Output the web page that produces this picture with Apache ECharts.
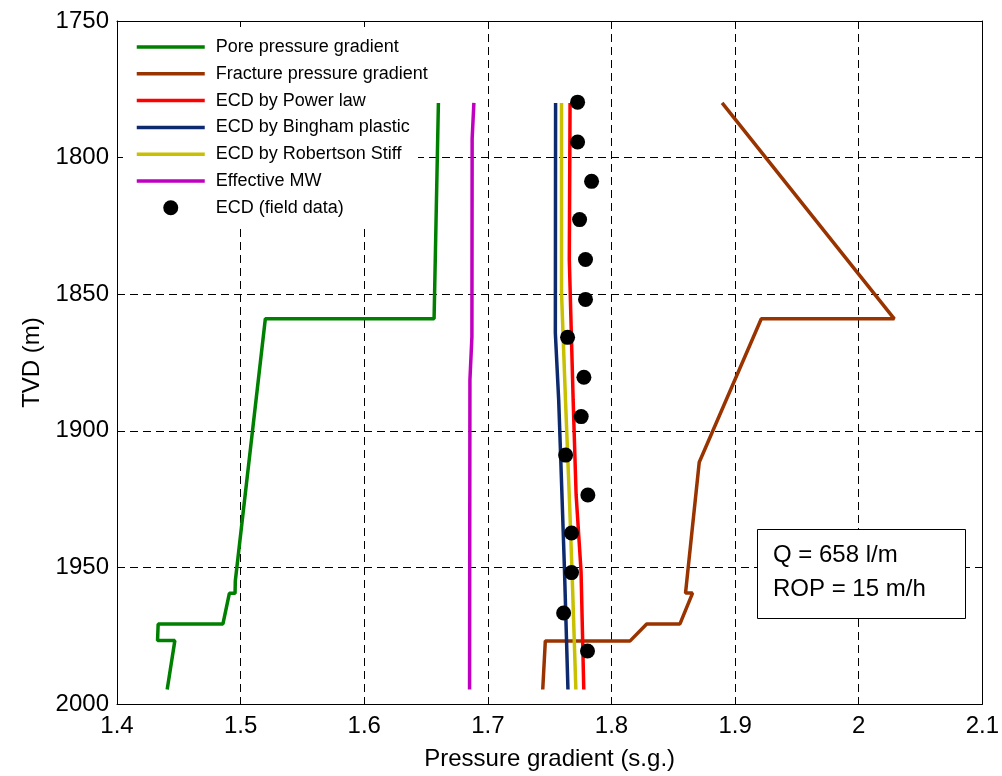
<!DOCTYPE html>
<html>
<head>
<meta charset="utf-8">
<script src="https://cdn.jsdelivr.net/npm/echarts@6/dist/echarts.min.js"></script>
<style>
html,body{margin:0;padding:0;background:#fff;}
#chart{width:1002px;height:776px;}
</style>
</head>
<body>
<div id="chart"></div>
<script>
// ---------------- data ----------------
const seriesNames = ['Pore pressure gradient','Fracture pressure gradient','ECD by Power law','ECD by Bingham plastic','ECD by Robertson Stiff','Effective MW','ECD (field data)'];

const poreX     = [1.660, 1.6565, 1.520, 1.4957, 1.4955, 1.4909, 1.4857, 1.4333, 1.4328, 1.4468, 1.4406];
const poreDepth = [1780, 1859, 1859, 1955, 1959.5, 1959.5, 1970.7, 1970.7, 1976.8, 1976.8, 1994.7];

const fracX     = [1.8895, 2.0288, 1.9212, 1.871, 1.8599, 1.8656, 1.8554, 1.8285, 1.8151, 1.7465, 1.7444];
const fracDepth = [1780, 1859, 1859, 1911.5, 1959.4, 1959.4, 1970.7, 1970.7, 1976.9, 1976.9, 1994.7];

const powerX     = [1.7665, 1.7659, 1.7690, 1.7714, 1.7754, 1.7776];
const powerDepth = [1780, 1837.5, 1888.7, 1923.4, 1951.5, 1994.7];

const binghamX     = [1.7548, 1.7546, 1.7573, 1.7589, 1.7619, 1.7648];
const binghamDepth = [1780, 1864.2, 1888.7, 1909.4, 1949.6, 1994.7];

const robertsonX     = [1.7596, 1.7596, 1.7628, 1.7641, 1.7662, 1.7681, 1.7712];
const robertsonDepth = [1780, 1849.6, 1888.7, 1903.5, 1927.7, 1951.5, 1994.7];

const emwX     = [1.6887, 1.6873, 1.6871, 1.6855, 1.6852];
const emwDepth = [1780, 1793, 1865.6, 1881.4, 1994.7];

const fieldX     = [1.7726, 1.7726, 1.7839, 1.7742, 1.7790, 1.7790, 1.7645, 1.7777, 1.7755, 1.7629, 1.7809, 1.7677, 1.7677, 1.7613, 1.7806];
const fieldDepth = [1779.7, 1794.3, 1808.7, 1822.7, 1837.3, 1851.9, 1865.8, 1880.4, 1894.8, 1908.9, 1923.5, 1937.4, 1951.9, 1966.7, 1980.6];

const xTicks = [1.4, 2.1, 0.1];      // min, max, interval
const yTicks = [1750, 2000, 50];     // min, max, interval
const annotationLines = ['Q = 658 l/m', 'ROP = 15 m/h'];
const xTitle = 'Pressure gradient (s.g.)';
const yTitle = 'TVD (m)';

// ---------------- chart ----------------
const FONT = 'Liberation Sans, Arial, sans-serif';
const colors = ['#008000', '#993300', '#ff0000', '#0d2a6e', '#c8c000', '#c000c0', '#000000'];
const zip = (xs, ys) => xs.map((v, i) => [v, ys[i]]);

const chart = echarts.init(document.getElementById('chart'), null, {renderer: 'canvas'});

const gridBox = {left: 117, right: 17, top: 21, bottom: 71};

function xAxisBase(extra) {
  return Object.assign({
    type: 'value', min: xTicks[0], max: xTicks[1], interval: xTicks[2],
    axisLine: {show: true, onZero: false, lineStyle: {color: '#000', width: 1}},
    axisTick: {show: true, inside: true, length: 6, lineStyle: {color: '#000', width: 1}},
    axisLabel: {show: false},
    splitLine: {show: false}
  }, extra);
}
function yAxisBase(extra) {
  return Object.assign({
    type: 'value', min: yTicks[0], max: yTicks[1], interval: yTicks[2], inverse: true,
    axisLine: {show: true, onZero: false, lineStyle: {color: '#000', width: 1}},
    axisTick: {show: true, inside: true, length: 6, lineStyle: {color: '#000', width: 1}},
    axisLabel: {show: false},
    splitLine: {show: false}
  }, extra);
}
const gridLineStyle = {color: '#000', width: 1, type: [8, 5]};
const LW = 3.5;

const lineSeries = (name, xs, ds, color) => ({
  name, type: 'line', data: zip(xs, ds), symbol: 'none', showSymbol: false,
  xAxisIndex: 0, yAxisIndex: 0,
  lineStyle: {color, width: LW}, itemStyle: {color}, z: 3, animation: false
});

const option = {
  backgroundColor: '#fff',
  animation: false,
  textStyle: {fontFamily: FONT},
  grid: gridBox,
  xAxis: [
    xAxisBase({position: 'bottom', z: 5,
      axisLabel: {show: true, fontSize: 24, color: '#000', margin: 10, fontFamily: FONT,
        formatter: v => String(+v.toFixed(1))},
      name: xTitle, nameLocation: 'middle', nameGap: 43,
      nameTextStyle: {fontSize: 24, color: '#000', fontFamily: FONT}}),
    xAxisBase({position: 'top', z: 5}),
    xAxisBase({position: 'bottom', z: 0, axisLine: {show: false}, axisTick: {show: false},
      splitLine: {show: true, lineStyle: gridLineStyle}})
  ],
  yAxis: [
    yAxisBase({position: 'left', z: 5,
      axisLabel: {show: true, fontSize: 24, color: '#000', margin: 8, fontFamily: FONT,
        formatter: v => String(Math.round(v))},
      name: yTitle, nameLocation: 'middle', nameGap: 69,
      nameTextStyle: {fontSize: 24, color: '#000', fontFamily: FONT}}),
    yAxisBase({position: 'right', z: 5}),
    yAxisBase({position: 'left', z: 0, axisLine: {show: false}, axisTick: {show: false},
      splitLine: {show: true, lineStyle: gridLineStyle}})
  ],
  legend: {
    orient: 'vertical', left: 118, top: 21,
    padding: [17, 10, 10, 17],
    itemWidth: 68, itemHeight: 15, itemGap: 8.8,
    lineStyle: {width: 3.5},
    textStyle: {fontSize: 18, color: '#000', fontFamily: FONT, padding: [0, 0, 0, 6]},
    data: seriesNames.map((n, i) => i === 6 ? {name: n, icon: 'circle'} : {name: n, itemStyle: {opacity: 0}}),
    z: 6
  },
  graphic: [
    {type: 'rect', z: 1, silent: true,
      shape: {x: 118, y: 22, width: 300, height: 203},
      style: {fill: '#fff', stroke: null}},
    {type: 'rect', z: 1, silent: true,
      shape: {x: 757.5, y: 529.5, width: 208, height: 89},
      style: {fill: '#fff', stroke: '#000', lineWidth: 1}},
    {type: 'text', z: 2, silent: true, x: 773, y: 555,
      style: {text: annotationLines[0], font: '24px ' + FONT, fill: '#000', verticalAlign: 'middle'}},
    {type: 'text', z: 2, silent: true, x: 773, y: 589,
      style: {text: annotationLines[1], font: '24px ' + FONT, fill: '#000', verticalAlign: 'middle'}}
  ],
  series: [
    lineSeries(seriesNames[0], poreX, poreDepth, colors[0]),
    lineSeries(seriesNames[1], fracX, fracDepth, colors[1]),
    lineSeries(seriesNames[2], powerX, powerDepth, colors[2]),
    lineSeries(seriesNames[3], binghamX, binghamDepth, colors[3]),
    lineSeries(seriesNames[4], robertsonX, robertsonDepth, colors[4]),
    lineSeries(seriesNames[5], emwX, emwDepth, colors[5]),
    {name: seriesNames[6], type: 'scatter', data: zip(fieldX, fieldDepth),
      xAxisIndex: 0, yAxisIndex: 0, symbol: 'circle', symbolSize: 15,
      itemStyle: {color: '#000', opacity: 1}, z: 4, animation: false}
  ]
};
chart.setOption(option);
</script>
</body>
</html>
